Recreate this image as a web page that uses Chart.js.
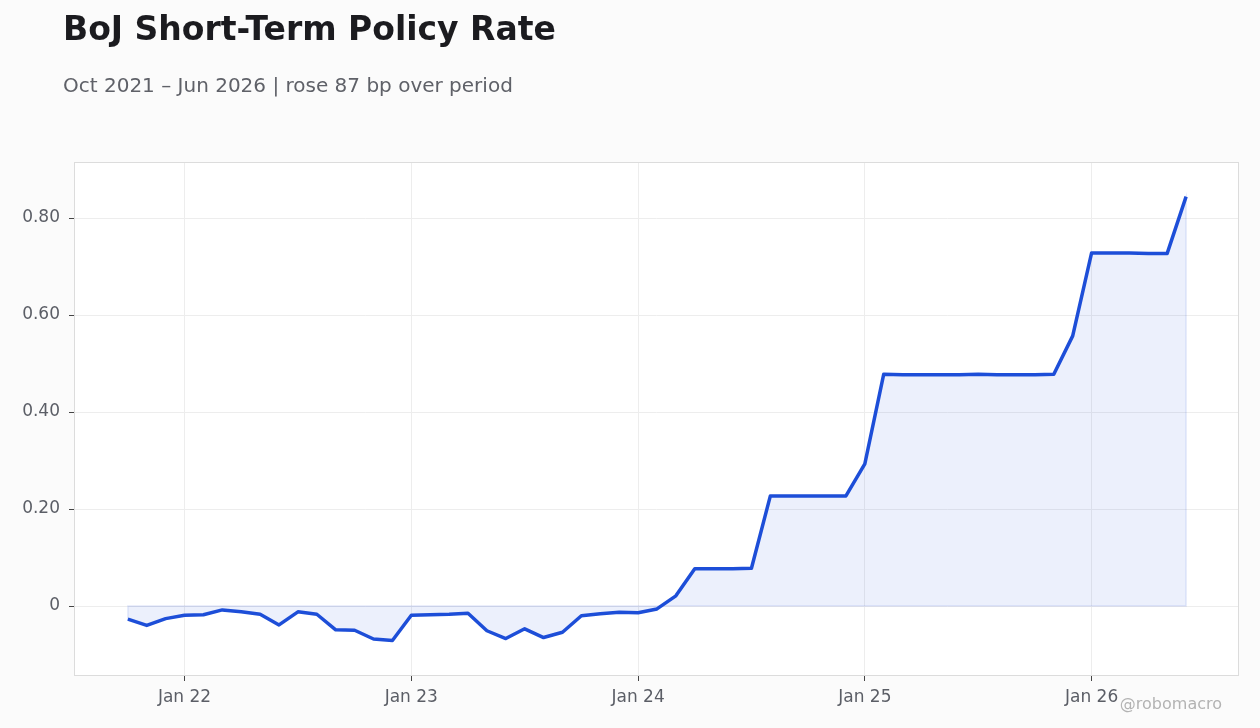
<!DOCTYPE html>
<html>
<head>
<meta charset="utf-8">
<script src="https://cdn.jsdelivr.net/npm/chart.js@4.4.1/dist/chart.umd.min.js"></script>
<style>
  html, body { margin: 0; padding: 0; background: #fbfbfb; }
  #wrap { position: relative; width: 1260px; height: 728px; font-family: "DejaVu Sans", sans-serif; }
  #chart { position: absolute; left: 0; top: 0; }
  .title { position: absolute; left: 63px; top: 9px; font-size: 33px; font-weight: bold; color: #1b1b1f; white-space: nowrap; }
  .subtitle { position: absolute; left: 63px; top: 73px; font-size: 20px; color: #5f6168; white-space: nowrap; }
  .credit { position: absolute; right: 38px; top: 694px; font-size: 16px; color: #b3b3b3; }
</style>
</head>
<body>
<div id="wrap">
  <canvas id="chart" width="1260" height="728"></canvas>
  <div class="title">BoJ Short-Term Policy Rate</div>
  <div class="subtitle">Oct 2021 – Jun 2026 | rose 87 bp over period</div>
  <div class="credit">@robomacro</div>
</div>
<script>
// Monthly observations, Oct 2021 .. Jun 2026
const months = [
  'Oct 21', 'Nov 21', 'Dec 21',
  'Jan 22', 'Feb 22', 'Mar 22', 'Apr 22', 'May 22', 'Jun 22', 'Jul 22', 'Aug 22', 'Sep 22', 'Oct 22', 'Nov 22', 'Dec 22',
  'Jan 23', 'Feb 23', 'Mar 23', 'Apr 23', 'May 23', 'Jun 23', 'Jul 23', 'Aug 23', 'Sep 23', 'Oct 23', 'Nov 23', 'Dec 23',
  'Jan 24', 'Feb 24', 'Mar 24', 'Apr 24', 'May 24', 'Jun 24', 'Jul 24', 'Aug 24', 'Sep 24', 'Oct 24', 'Nov 24', 'Dec 24',
  'Jan 25', 'Feb 25', 'Mar 25', 'Apr 25', 'May 25', 'Jun 25', 'Jul 25', 'Aug 25', 'Sep 25', 'Oct 25', 'Nov 25', 'Dec 25',
  'Jan 26', 'Feb 26', 'Mar 26', 'Apr 26', 'May 26', 'Jun 26'
];
const rate = [
  -0.027, -0.040, -0.026,
  -0.019, -0.018, -0.008, -0.012, -0.017, -0.039, -0.012, -0.017, -0.049, -0.050, -0.068, -0.071,
  -0.019, -0.018, -0.017, -0.015, -0.051, -0.067, -0.047, -0.065, -0.054, -0.020, -0.016, -0.013,
  -0.014, -0.006, 0.021, 0.077, 0.077, 0.077, 0.078, 0.227, 0.227, 0.227, 0.227, 0.227,
  0.293, 0.478, 0.477, 0.477, 0.477, 0.477, 0.478, 0.477, 0.477, 0.477, 0.478, 0.557,
  0.728, 0.728, 0.728, 0.727, 0.727, 0.844
];
// x axis ticks (month index -> label)
const xTickIdx = [3, 15, 27, 39, 51];
const xTickLabels = ['Jan 22', 'Jan 23', 'Jan 24', 'Jan 25', 'Jan 26'];
// y axis ticks
const yTickVals = [0, 0.2, 0.4, 0.6, 0.8];
const yTickLabels = ['0', '0.20', '0.40', '0.60', '0.80'];

const LINE = '#1d4ed8';

// white plot panel + box outline + faint edge around the filled area
const panel = {
  id: 'panel',
  beforeDraw(chart) {
    const { ctx, chartArea: a } = chart;
    ctx.save();
    ctx.fillStyle = '#ffffff';
    ctx.fillRect(a.left, a.top, a.right - a.left, a.bottom - a.top);
    ctx.restore();
  },
  beforeDatasetsDraw(chart) {
    const { ctx, scales: { x, y } } = chart;
    const y0 = y.getPixelForValue(0);
    ctx.save();
    ctx.beginPath();
    ctx.moveTo(x.getPixelForValue(0), y0);
    rate.forEach((v, i) => ctx.lineTo(x.getPixelForValue(i), y.getPixelForValue(v)));
    ctx.lineTo(x.getPixelForValue(rate.length - 1), y0);
    ctx.closePath();
    ctx.strokeStyle = 'rgba(29, 78, 216, 0.12)';
    ctx.lineWidth = 1.5;
    ctx.stroke();
    ctx.restore();
  },
  afterDraw(chart) {
    const { ctx, chartArea: a } = chart;
    ctx.save();
    ctx.strokeStyle = '#dcdcdc';
    ctx.lineWidth = 1;
    ctx.strokeRect(a.left + 0.5, a.top + 0.5, a.right - a.left - 1, a.bottom - a.top - 1);
    ctx.restore();
  }
};

const tickFont = { family: '"DejaVu Sans", sans-serif', size: 17 };

new Chart(document.getElementById('chart'), {
  type: 'line',
  data: {
    datasets: [{
      label: 'BoJ short-term policy rate',
      data: rate.map((v, i) => ({ x: i, y: v })),
      borderColor: LINE,
      borderWidth: 3.5,
      backgroundColor: 'rgba(29, 78, 216, 0.085)',
      fill: 'origin',
      tension: 0,
      pointRadius: 0,
      borderJoinStyle: 'round'
    }]
  },
  options: {
    responsive: false,
    animation: false,
    devicePixelRatio: 1,
    layout: { padding: { top: 162, right: 21, left: 0, bottom: 0 } },
    scales: {
      x: {
        type: 'linear',
        min: -2.85,
        max: 58.8,
        afterFit: (s) => { s.height = 52; },
        afterBuildTicks: (s) => { s.ticks = xTickIdx.map(v => ({ value: v })); },
        ticks: {
          font: tickFont,
          color: '#5b5e66',
          padding: 6,
          maxRotation: 0,
          callback: (v) => xTickLabels[xTickIdx.indexOf(v)]
        },
        grid: { color: '#ededed', tickColor: '#444', tickLength: 5 },
        border: { display: false }
      },
      y: {
        min: -0.1443,
        max: 0.9155,
        afterFit: (s) => { s.width = 74; },
        afterBuildTicks: (s) => { s.ticks = yTickVals.map(v => ({ value: v })); },
        ticks: {
          font: tickFont,
          color: '#5b5e66',
          padding: 9,
          callback: (v) => yTickLabels[yTickVals.indexOf(v)]
        },
        grid: { color: '#ededed', tickColor: '#444', tickLength: 5 },
        border: { display: false }
      }
    },
    plugins: {
      legend: { display: false },
      tooltip: { enabled: false }
    }
  },
  plugins: [panel]
});
</script>
</body>
</html>
